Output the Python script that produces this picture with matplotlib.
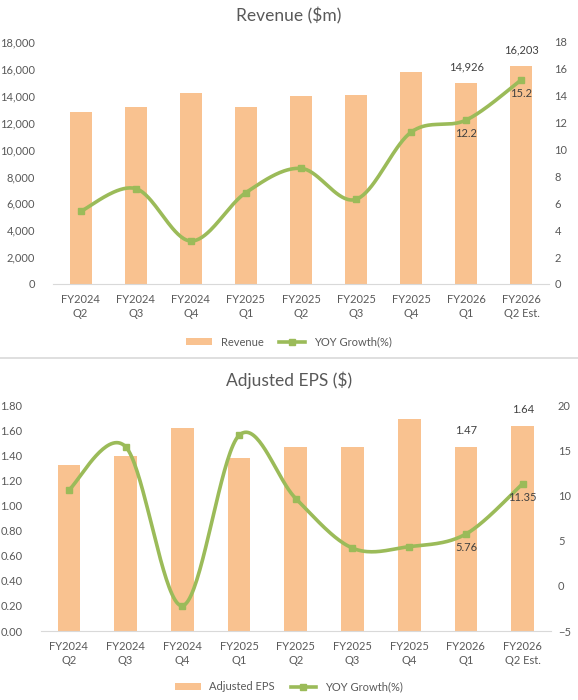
import numpy as np
import matplotlib
matplotlib.use('Agg')
import matplotlib.pyplot as plt
from matplotlib.lines import Line2D
from matplotlib.patches import Patch
from matplotlib.ticker import FuncFormatter, MultipleLocator

# Data
quarters = ['FY2024\nQ2', 'FY2024\nQ3', 'FY2024\nQ4', 'FY2025\nQ1', 'FY2025\nQ2',
            'FY2025\nQ3', 'FY2025\nQ4', 'FY2026\nQ1', 'FY2026\nQ2 Est.']
revenue = [12820, 13200, 14230, 13200, 13950, 14030, 15800, 14926, 16203]
revenue_growth = [5.4, 7.1, 3.2, 6.8, 8.6, 6.3, 11.3, 12.2, 15.2]
eps = [1.33, 1.40, 1.62, 1.38, 1.47, 1.47, 1.69, 1.47, 1.64]
eps_growth = [10.65, 15.45, -2.2, 16.7, 9.7, 4.2, 4.36, 5.76, 11.35]

BAR = '#F9C290'
LINE = '#9BBB59'
TXT = '#595959'
AXIS = '#D9D9D9'

plt.rcParams['font.family'] = ['Lato', 'DejaVu Sans']


def smooth(x, y, n=40):
    """Excel-like smoothed line (Catmull-Rom as cubic Bezier)."""
    p = np.column_stack([x, y]).astype(float)
    pts = np.vstack([p[0], p, p[-1]])
    out = []
    for i in range(1, len(pts) - 2):
        p0, p1, p2, p3 = pts[i - 1], pts[i], pts[i + 1], pts[i + 2]
        c1 = p1 + (p2 - p0) / 6
        c2 = p2 - (p3 - p1) / 6
        t = np.linspace(0, 1, n)[:, None]
        seg = ((1 - t) ** 3) * p1 + 3 * ((1 - t) ** 2) * t * c1 + 3 * (1 - t) * t ** 2 * c2 + t ** 3 * p2
        out.append(seg if i == 1 else seg[1:])
    out = np.vstack(out)
    return out[:, 0], out[:, 1]


def panel(rect, title, bars, growth, ylim, yticks_step, y2lim, y2ticks_step,
          yfmt, bar_name, lpad, rpad, legend_y, title_y, bar_labels, growth_labels):
    ax = fig.add_axes(rect)
    x = np.arange(len(quarters))
    ax.bar(x, bars, width=0.4, color=BAR, zorder=2)
    ax.set_xlim(-0.5, len(quarters) - 0.5)
    ax.set_ylim(*ylim)
    ax.yaxis.set_major_locator(MultipleLocator(yticks_step))
    ax.yaxis.set_major_formatter(FuncFormatter(yfmt))
    ax.set_xticks(x)
    ax.set_xticklabels(quarters, linespacing=1.4)
    for s in ['top', 'right', 'left']:
        ax.spines[s].set_visible(False)
    ax.spines['bottom'].set_color(AXIS)
    ax.tick_params(axis='both', length=0, colors=TXT, labelsize=8)
    ax.tick_params(axis='y', pad=lpad)
    ax.tick_params(axis='x', pad=7)

    ax2 = ax.twinx()
    ax2.set_ylim(*y2lim)
    ax2.yaxis.set_major_locator(MultipleLocator(y2ticks_step))
    for s in ax2.spines.values():
        s.set_visible(False)
    ax2.tick_params(axis='y', length=0, colors=TXT, labelsize=8, pad=rpad)
    sx, sy = smooth(x, growth)
    ax2.plot(sx, sy, color=LINE, lw=2.6, zorder=3, solid_capstyle='round')
    ax2.plot(x, growth, ls='none', marker='s', ms=5, color=LINE, zorder=4)

    for i, lab in bar_labels:
        ax.annotate(lab, (x[i], bars[i]), xytext=(0, 8), textcoords='offset points',
                    ha='center', va='bottom', fontsize=8, color='#404040')
    for i, lab in growth_labels:
        ax2.annotate(lab, (x[i], growth[i]), xytext=(0, -6), textcoords='offset points',
                     ha='center', va='top', fontsize=8, color='#404040')

    fig.text(0.5, title_y, title, ha='center', va='center', fontsize=12.5, color=TXT)
    handles = [Patch(facecolor=BAR, edgecolor='none'),
               Line2D([], [], color=LINE, lw=2.6, marker='s', ms=4)]
    fig.legend(handles, [bar_name, 'YOY Growth(%)'], loc='center', ncol=2,
               bbox_to_anchor=(0.5, legend_y), frameon=False, fontsize=8,
               handlelength=2.3, handleheight=0.6, handletextpad=0.8, columnspacing=1.4,
               labelcolor=TXT)


fig = plt.figure(figsize=(5.78, 7.0), dpi=100)
W, H = 578, 700

panel([53 / W, 1 - 284 / H, 496 / W, 242 / H], 'Revenue ($m)', revenue, revenue_growth,
      (0, 18000), 2000, (0, 18), 2, lambda v, p: f'{v:,.0f}', 'Revenue', 13, 4,
      1 - 342 / H, 1 - 16 / H,
      [(7, '14,926'), (8, '16,203')], [(7, '12.2'), (8, '15.2')])

panel([40.5 / W, 1 - 631 / H, 510.5 / W, 225.3 / H], 'Adjusted EPS ($)', eps, eps_growth,
      (0, 1.8), 0.2, (-5, 20), 5, lambda v, p: f'{v:.2f}', 'Adjusted EPS', 13, 5,
      1 - 687 / H, 1 - 380 / H,
      [(7, '1.47'), (8, '1.64')], [(7, '5.76'), (8, '11.35')])

# separator between the two charts
fig.add_artist(Line2D([0, 1], [1 - 358 / H, 1 - 358 / H], color=AXIS, lw=1.2,
                      transform=fig.transFigure))

fig.savefig('out.png', dpi=100)
